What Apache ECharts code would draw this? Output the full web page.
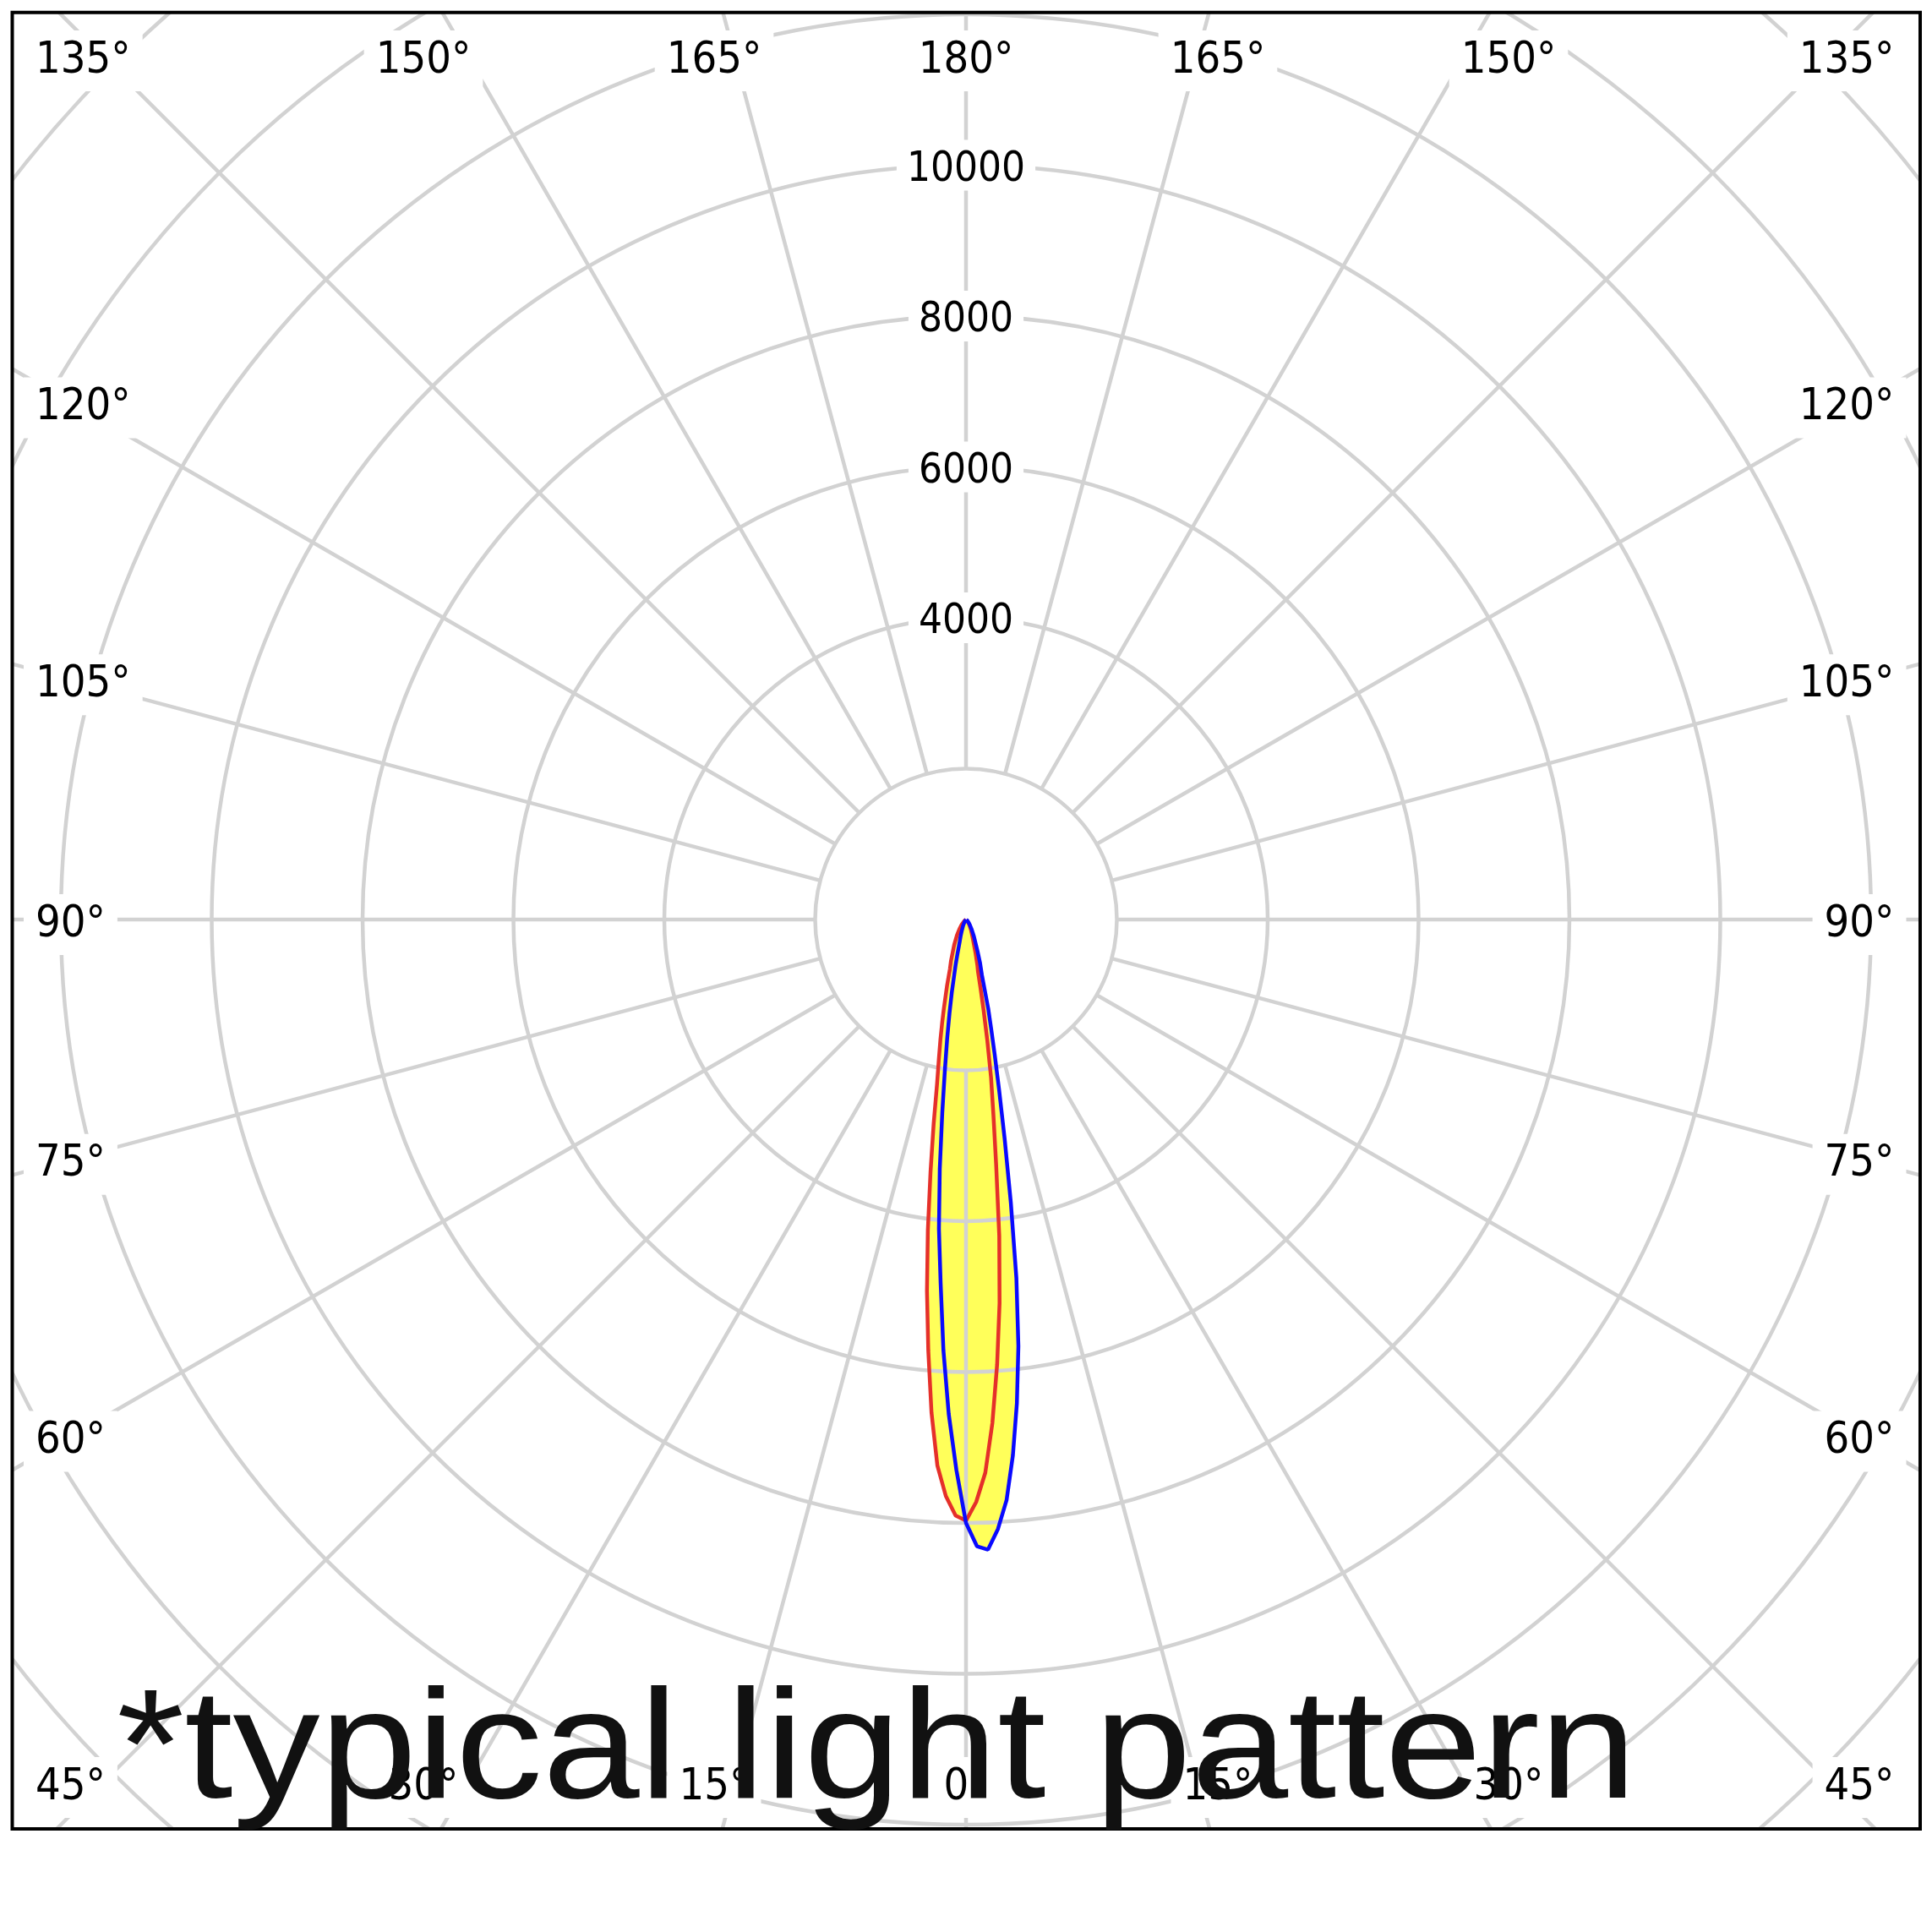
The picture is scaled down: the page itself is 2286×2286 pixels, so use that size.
<!DOCTYPE html>
<html>
<head>
<meta charset="utf-8">
<script src="https://cdn.jsdelivr.net/npm/echarts@6/dist/echarts.min.js"></script>
<style>html,body{margin:0;padding:0;background:#fff}#c{width:2286px;height:2286px}</style>
</head>
<body>
<div id="c"></div>
<script>
// ---- data (luminous intensity, cd) ----
const gammaDeg  = [0,1,2,3,4,5,6,7,8,9,10,11,12,13,14,16,18,20,25,30,35,40,50,60,70,80,90];
const redLeft   = [7970,7904,7649,7250,6555,5736,4951,4149,3380,2739,2208,1887,1633,1407,1210,911,690,580,370,240,150,90,30,10,0,0,0];
const redRight  = [7970,7724,7338,6684,5914,5105,4218,3283,2608,2123,1624,1220,920,706,622,455,330,260,160,100,60,40,15,5,0,0,0];
const blueLeft  = [8000,7300,6560,5720,4825,4117,3326,2582,2008,1595,1260,988,753,604,463,300,230,170,90,50,30,20,5,0,0,0,0];
const blueRight = [8000,8310,8359,8092,7715,7132,6452,5699,4800,3800,2950,2300,1830,1480,1220,765,600,447,250,150,90,60,20,5,0,0,0];
const radiusTickLabels = [4000,6000,8000,10000];
const angleTickLabels  = [0,15,30,45,60,75,90,105,120,135,150,165,180];
const footnote = '*typical light pattern';

// ---- layout ----
const CX = 1143, CY = 1088, PX_PER_CD = 0.08925, R_MAX = 18000;
const GRID = '#d2d2d2', RED = '#e5302a', BLUE = '#0a0aff', YELLOW = '#ffff5a';
const LABEL_FONT = '"DejaVu Sans Condensed", "DejaVu Sans", sans-serif';
const BOX = {x0: 14.5, y0: 14.7, x1: 2272, y1: 2164};

function loop(left, right) {
  const pts = [];
  for (let i = gammaDeg.length - 1; i >= 0; i--) pts.push([left[i], 180 + gammaDeg[i]]);
  for (let i = 1; i < gammaDeg.length; i++) pts.push([right[i], 180 - gammaDeg[i]]);
  return pts;
}

// angle labels placed where each spoke meets a frame inside the box
const HALF_W = 1059, HALF_H = 1112, LEFT_X = 28, RIGHT_X = 2255.5, TOP_Y = 66, BOTTOM_Y = 2109, LABEL_DY = 6;
const labelEls = [];
angleTickLabels.forEach(g => {
  const sides = (g === 0 || g === 180) ? [0] : [-1, 1];
  sides.forEach(s => {
    const a = g * Math.PI / 180, sn = Math.sin(a), cs = Math.cos(a);
    const tSide = s !== 0 ? HALF_W / sn : Infinity;
    const tTB = Math.abs(cs) > 1e-9 ? HALF_H / Math.abs(cs) : Infinity;
    let x, y, align;
    if (tSide <= tTB) {
      x = s < 0 ? LEFT_X : RIGHT_X; align = s < 0 ? 'left' : 'right';
      y = Math.min(BOTTOM_Y, Math.max(TOP_Y, CY + cs * tSide));
    } else {
      x = CX + s * sn * tTB; align = 'center';
      y = cs > 0 ? BOTTOM_Y : TOP_Y;
    }
    labelEls.push({
      type: 'text', x: x, y: y + LABEL_DY, z: 110, silent: true,
      style: {text: g + '°', fontSize: 52, fontFamily: LABEL_FONT, fill: '#000',
        align: align, verticalAlign: 'middle', textAlign: align, textVerticalAlign: 'middle',
        backgroundColor: '#fff', padding: [10, 14]}
    });
  });
});

const chart = echarts.init(document.getElementById('c'), null, {renderer: 'canvas'});
chart.setOption({
  animation: false,
  backgroundColor: '#fff',
  polar: [
    {center: [CX, CY], radius: [2000 * PX_PER_CD, R_MAX * PX_PER_CD]},
    {center: [CX, CY], radius: [0, R_MAX * PX_PER_CD]}
  ],
  angleAxis: [
    {polarIndex: 0, type: 'value', min: 0, max: 360, interval: 15, startAngle: 90, clockwise: true, z: 1,
      axisLine: {show: false}, axisTick: {show: false}, axisLabel: {show: false},
      splitLine: {show: true, lineStyle: {color: GRID, width: 4.5}}},
    {polarIndex: 1, type: 'value', min: 0, max: 360, startAngle: 90, clockwise: true,
      axisLine: {show: false}, axisTick: {show: false}, axisLabel: {show: false}, splitLine: {show: false}}
  ],
  radiusAxis: [
    {polarIndex: 0, type: 'value', min: 0, max: 1, show: false},
    {polarIndex: 1, type: 'value', min: 0, max: R_MAX, interval: 2000, z: 2,
      axisLine: {show: false}, axisTick: {show: false},
      splitLine: {show: true, lineStyle: {color: GRID, width: 4.5}},
      axisLabel: {show: true, margin: 0, align: 'center', verticalAlign: 'middle',
        fontSize: 49, fontFamily: LABEL_FONT, color: '#000',
        formatter: v => radiusTickLabels.includes(v) ? '{b|' + v + '}' : '',
        rich: {b: {fontSize: 49, fontFamily: LABEL_FONT, color: '#000', backgroundColor: '#fff', padding: [11, 12, 0, 12]}}}}
  ],
  series: [
    {type: 'line', coordinateSystem: 'polar', polarIndex: 1, data: loop(redLeft, redRight), symbol: 'none', silent: true,
      lineStyle: {width: 0}, areaStyle: {color: YELLOW, opacity: 1}, z: 0},
    {type: 'line', coordinateSystem: 'polar', polarIndex: 1, data: loop(blueLeft, blueRight), symbol: 'none', silent: true,
      lineStyle: {width: 0}, areaStyle: {color: YELLOW, opacity: 1}, z: 0},
    {type: 'line', coordinateSystem: 'polar', polarIndex: 1, data: loop(redLeft, redRight), symbol: 'none', silent: true,
      lineStyle: {color: RED, width: 4.5}, z: 3},
    {type: 'line', coordinateSystem: 'polar', polarIndex: 1, data: loop(blueLeft, blueRight), symbol: 'none', silent: true,
      lineStyle: {color: BLUE, width: 4.5}, z: 4}
  ],
  graphic: {elements: [
    {type: 'rect', z: 100, silent: true, shape: {x: 0, y: 0, width: 2286, height: BOX.y0}, style: {fill: '#fff'}},
    {type: 'rect', z: 100, silent: true, shape: {x: 0, y: BOX.y1, width: 2286, height: 2286 - BOX.y1}, style: {fill: '#fff'}},
    {type: 'rect', z: 100, silent: true, shape: {x: 0, y: 0, width: BOX.x0, height: 2286}, style: {fill: '#fff'}},
    {type: 'rect', z: 100, silent: true, shape: {x: BOX.x1, y: 0, width: 2286 - BOX.x1, height: 2286}, style: {fill: '#fff'}},
    {type: 'rect', z: 101, silent: true, shape: {x: BOX.x0, y: BOX.y0, width: BOX.x1 - BOX.x0, height: BOX.y1 - BOX.y0},
      style: {fill: 'none', stroke: '#000', lineWidth: 4}},
    ...labelEls,
    {type: 'text', x: 138, y: 2076, scaleX: 1.12, z: 120, silent: true,
      style: {text: footnote, fontSize: 184, fontFamily: '"Liberation Sans", Arial, sans-serif', fill: '#111',
        align: 'left', verticalAlign: 'middle', textAlign: 'left', textVerticalAlign: 'middle'}}
  ]}
});
</script>
</body>
</html>
